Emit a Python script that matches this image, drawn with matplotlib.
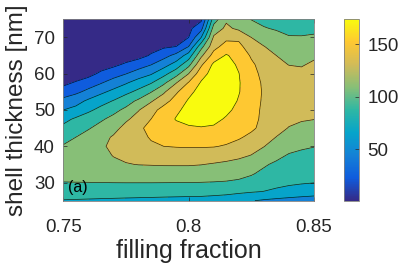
import numpy as np
import matplotlib
matplotlib.use('Agg')
import matplotlib.pyplot as plt
from matplotlib.colors import LinearSegmentedColormap, Normalize
import matplotlib.cm as cm

plt.rcParams['font.family'] = ['Liberation Sans', 'DejaVu Sans']

# grid
filling = [0.750, 0.755, 0.760, 0.765, 0.770, 0.775, 0.780, 0.785, 0.790, 0.795, 0.800,
           0.805, 0.810, 0.815, 0.820, 0.825, 0.830, 0.835, 0.840, 0.845, 0.850]
shell = [25, 27.5, 30, 32.5, 35, 37.5, 40, 42.5, 45, 47.5, 50,
         52.5, 55, 57.5, 60, 62.5, 65, 67.5, 70, 72.5, 75]

z250 = [79, 78.5, 78, 77.5, 77, 76.5, 76, 75.5, 75, 74.5, 74, 74, 72.5, 70, 66, 61, 57.5, 55.5, 54, 53, 52.5]
z275 = [89.2, 89, 88.8, 88.6, 88.4, 88.2, 88.1, 87.9, 87.6, 87.4, 87.2, 86.6, 86, 85.4, 83.5, 81.5, 79.5, 75.2, 71.9, 69.1, 66.9]
z300 = [99.5, 99.7, 99.8, 100, 100.2, 100.3, 100.3, 100.3, 100.2, 100.1, 100, 99.7, 99.2, 98.5, 97, 94.5, 91, 87.5, 84, 82, 80.5]
z325 = [106.5, 107, 107.5, 108, 108.5, 109.2, 109.8, 110.3, 110.7, 111, 111, 110.5, 109.5, 108, 105.5, 101.5, 96.5, 91.2, 88, 86.5, 85.5]
z350 = [112, 113, 114.5, 116, 117.5, 119, 120.5, 121, 121.5, 121.5, 121.5, 120.5, 118.5, 116.5, 113, 108, 102, 97, 93.5, 91.5, 90.5]
z375 = [109, 111, 113.5, 116.5, 120.5, 124, 127, 129.5, 131, 131.5, 131.5, 131, 129.5, 127, 124.5, 119.5, 113, 104.5, 98.5, 97, 95.5]
z400 = [101.5, 106, 111, 116.5, 125, 131, 134, 137.5, 140, 141, 141.5, 141.5, 141, 138.5, 134, 128, 120.5, 113, 106, 102, 100.5]
z425 = [93, 100, 107, 114, 122, 128.5, 135, 141.5, 145.5, 147.5, 149, 149.5, 148.5, 146, 142, 136, 128, 119.5, 113, 109, 107]
z450 = [85, 92, 98.5, 106, 114, 126, 136, 146, 152, 155, 158, 159, 157.5, 154, 149, 143, 135, 127, 119, 116, 115]
z475 = [74, 83, 91, 97.5, 105, 117, 127, 140, 152, 161, 164.5, 166, 165, 158, 151.5, 145, 136.5, 130, 125, 121.5, 120.3]
z500 = [60, 66, 76, 86, 95, 104, 119, 132, 148, 157, 165, 170, 170, 164, 155, 146, 137, 132, 128, 125.5, 125]
z525 = [45, 52.5, 63.5, 72, 81, 92, 103.5, 118, 131.5, 148.5, 162, 169.5, 172, 169, 158.5, 148, 137.5, 133, 129.5, 127.5, 128]
z550 = [31, 36, 45, 56, 65, 75, 85, 99, 117, 137, 155, 167, 172, 171, 161, 149, 138, 134, 131, 130, 131]
z575 = [14, 22.5, 30.5, 38.5, 49, 58, 69, 78.5, 95.5, 119, 141.5, 162, 171, 172, 161.5, 147.5, 137.5, 132.5, 128.5, 127, 129]
z600 = [2, 6, 13, 24, 31, 39.5, 49, 58, 73.5, 92, 120, 152, 168, 170, 160.5, 145, 136, 131, 127, 124.5, 127]
z625 = [1.8, 3, 5, 10, 16, 23, 31, 39.5, 52, 68, 94, 137, 164, 168, 157, 143, 133, 125.5, 119.5, 118.5, 123]
z650 = [1.5, 2, 3, 5, 7, 10, 13, 22, 33, 46, 69, 116, 148, 162, 152, 138, 129, 120, 115, 112.5, 117]
z675 = [1.3, 1.8, 2.5, 4, 5.5, 7.5, 10, 13, 17, 20, 40, 93, 133, 148, 145, 130, 120.5, 114, 108, 106.5, 108.5]
z700 = [1.2, 1.5, 2, 3, 4, 5, 7, 9, 13, 16, 20, 60, 123, 135, 136, 120, 112, 105, 101, 101, 102]
z725 = [1.1, 1.3, 1.6, 2.2, 3, 3.8, 5, 6.5, 8.5, 11, 15, 33, 108, 124, 116, 107, 101, 98.5, 96, 95.5, 96.5]
z750 = [1, 1.1, 1.3, 1.6, 2, 2.5, 3, 4, 5, 7, 11, 16, 90, 117, 108, 99.5, 96, 93, 91, 90, 90]

levels = [0, 20, 40, 60, 80, 100, 120, 140, 160, 180]
parula = ['#352a87', '#0f5cdd', '#1481d6', '#06a4ca', '#2eb7a4',
          '#87bf77', '#d1bb59', '#fec832', '#f9fb0e']
cmap = LinearSegmentedColormap.from_list('parula', parula)

Z = np.array([z250, z275, z300, z325, z350, z375, z400, z425, z450, z475, z500,
              z525, z550, z575, z600, z625, z650, z675, z700, z725, z750])
X, Y = np.meshgrid(filling, shell)

fig = plt.figure(figsize=(4.07, 2.64), dpi=100)
ax = fig.add_axes([0.1555, 0.2398, 0.616, 0.6871])
cax = fig.add_axes([0.8452, 0.2398, 0.0376, 0.6871])

ax.contourf(X, Y, Z, levels=levels, colors=parula)
ax.contour(X, Y, Z, levels=levels[1:-1], colors='k', linewidths=0.5, alpha=0.8)

ax.set_xlim(0.75, 0.85)
ax.set_ylim(25, 75)
ax.set_xticks([0.75, 0.8, 0.85])
ax.set_xticklabels(['0.75', '0.8', '0.85'])
ax.set_yticks([30, 40, 50, 60, 70])
tc = '#262626'
ax.tick_params(direction='in', top=True, right=True, length=3, width=0.5,
               labelsize=13.5, colors=tc, pad=6)
ax.tick_params(axis='x', pad=13)
for s in ax.spines.values():
    s.set_color('0.5')
    s.set_linewidth(0.6)
ax.set_xlabel('filling fraction', fontsize=18, color=tc, labelpad=2)
ax.set_ylabel('shell thickness [nm]', fontsize=17.5, color=tc, labelpad=4)
ax.text(0.019, 0.075, '(a)', transform=ax.transAxes, fontsize=11.5,
        color='k', va='center', ha='left')

sm = cm.ScalarMappable(norm=Normalize(1, 174), cmap=cmap)
cb = fig.colorbar(sm, cax=cax, ticks=[50, 100, 150])
cb.outline.set_edgecolor('0.5')
cb.outline.set_linewidth(0.6)
cax.tick_params(direction='in', length=3, width=0.5, labelsize=13.5, colors=tc, pad=6)

fig.savefig('out.png', dpi=100)
